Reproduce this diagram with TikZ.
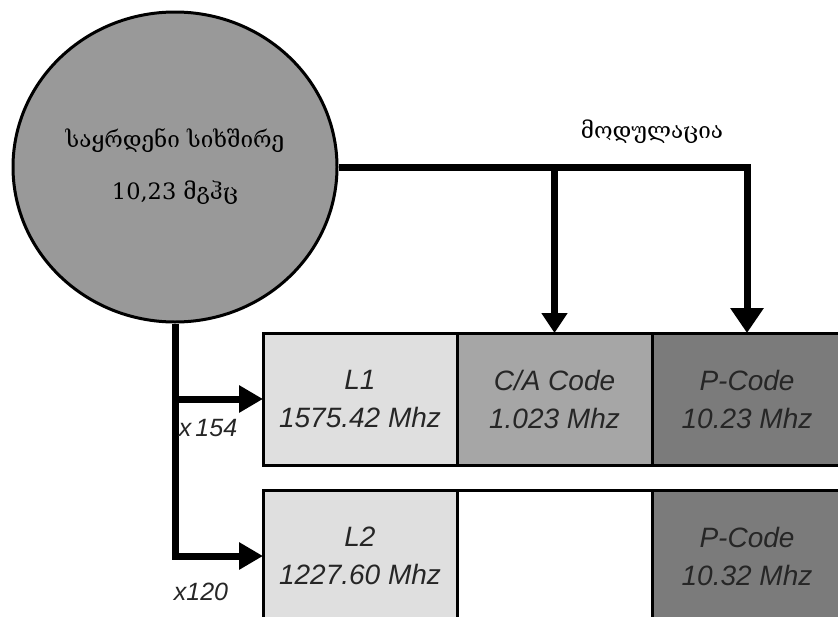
\documentclass[tikz,border=0pt]{standalone}
\usepackage{fontspec}
\setsansfont{Liberation Sans}
\newfontfamily\geofont{DejaVu Serif}
\usetikzlibrary{positioning,arrows.meta,shapes.geometric}
\definecolor{refcol}{HTML}{999999}
\definecolor{carcol}{HTML}{DFDFDF}
\definecolor{cacol}{HTML}{A6A6A6}
\definecolor{pcol}{HTML}{7B7B7B}

\begin{document}
\begin{tikzpicture}[
  x=1pt, y=-1pt,
  font=\sffamily\itshape\fontsize{28}{38}\selectfont,
  node distance=0pt,
  cell/.style={
    draw, fill=#1, line width=3pt, outer sep=0pt, inner sep=0pt,
    minimum height=132pt, minimum width=194pt, align=center,
    text=black!85,
  },
  feed/.style={line width=7pt, -{Triangle[length=24pt, width=26pt]}},
  mult/.style={font=\sffamily\itshape\fontsize{25}{28}\selectfont, text=black!85},
  geo/.style={font=\geofont\fontsize{22.5}{52}\selectfont},
]
\clip (0,0) rectangle (838,616);

% =================== reference oscillator ===================
\node[ellipse, draw, line width=3pt, fill=refcol, inner sep=0pt,
      minimum width=324pt, minimum height=310pt, geo, align=center] (ref) at (175,167)
  {საყრდენი სიხშირე\\10,23 მგჰც};

% =================== L1 carrier ===================
\node[cell=carcol, anchor=north west] (l1) at (263,333) {L1\\1575.42 Mhz};
\node[cell=cacol, right=of l1, minimum width=195pt] (ca1) {C/A Code\\1.023 Mhz};
\node[cell=pcol, right=of ca1, minimum width=190pt] (p1) {P-Code\\10.23 Mhz};

% =================== L2 carrier ===================
\node[cell=carcol, anchor=north west] (l2) at (263,490) {L2\\1227.60 Mhz};
\node[cell=white, right=of l2, minimum width=195pt] (gap2) {};
\node[cell=pcol, right=of gap2, minimum width=190pt] (p2) {P-Code\\10.32 Mhz};

% Modulation feeds
\draw[feed, -{Triangle[length=25pt, width=32pt]}] (ref.east) -| (p1.north);
\draw[feed, -{Triangle[length=20pt, width=25pt]}] (ref.east -| ca1.north) -- (ca1.north);
\node[geo] (modlabel) at (652,132) {მოდულაცია};

% Frequency multipliers
\draw[feed] (ref.south) |- (l2.west);
\draw[feed] (ref.south |- l1.west) -- (l1.west);
\node[mult] (mul1) at (208,428) {x\,154};
\node[mult] (mul2) at (201,592) {x120};

\end{tikzpicture}
\end{document}
